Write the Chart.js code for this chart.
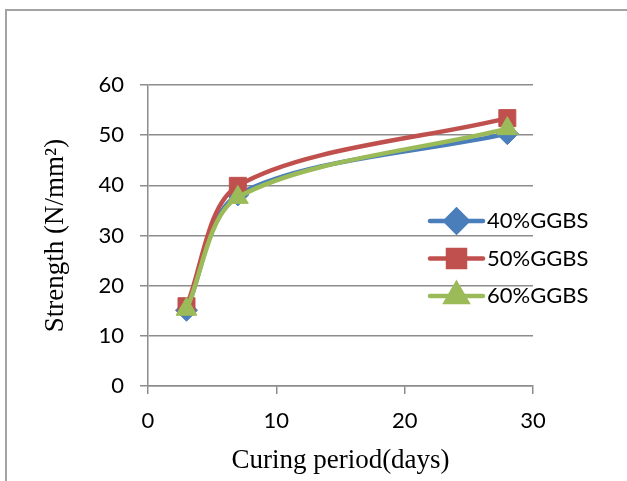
<!DOCTYPE html>
<html>
<head>
<meta charset="utf-8">
<script src="https://cdn.jsdelivr.net/npm/chart.js@4/dist/chart.umd.min.js"></script>
<style>
    html, body { margin: 0; padding: 0; background: #fff; }
    #wrap { position: relative; width: 627px; height: 481px; }
    #frame {
        position: absolute; left: 5px; top: 9px; right: 0; bottom: 0;
        border-top: 2px solid #a3a3a3; border-left: 2px solid #a3a3a3;
    }
    #chart { position: absolute; left: 0; top: 0; }
</style>
</head>
<body>
<div id="wrap">
    <div id="frame"></div>
    <canvas id="chart" width="627" height="481"></canvas>
</div>
<script>
const curingDays = [3, 7, 28];
const ggbs40 = [15.1, 38.1, 50.3];
const ggbs50 = [15.9, 39.9, 53.4];
const ggbs60 = [15.3, 37.6, 51.3];
const seriesLabels = ['40%GGBS', '50%GGBS', '60%GGBS'];
const seriesColors = ['#4a7ebb', '#c0504d', '#9bbb59'];
const seriesMarkers = ['rectRot', 'rect', 'triangle'];
const markerSizes = [11, 12, 12];

const gridColor = '#8c8c8c';
const tickFont = { family: 'Lato', size: 22 };
const titleFont = { family: 'Liberation Serif', size: 27 };

function toPoints(values) {
    return curingDays.map((day, i) => ({ x: day, y: values[i] }));
}

const seriesValues = [ggbs40, ggbs50, ggbs60];

const datasets = seriesValues.map((values, i) => ({
    label: seriesLabels[i],
    data: toPoints(values),
    borderColor: seriesColors[i],
    backgroundColor: seriesColors[i],
    pointBackgroundColor: seriesColors[i],
    pointBorderColor: seriesColors[i],
    pointStyle: seriesMarkers[i],
    pointRadius: markerSizes[i],
    pointBorderWidth: 1,
    borderWidth: 4.5,
    tension: 0.3,
    order: 2 - i,
}));

// legend drawn over the plot, like the original
const overlayLegend = {
    id: 'overlayLegend',
    afterDraw(chart) {
        const ctx = chart.ctx;
        const startY = 221;
        const gap = 37.5;
        ctx.save();
        seriesLabels.forEach((label, i) => {
            const y = startY + i * gap;
            ctx.strokeStyle = seriesColors[i];
            ctx.lineWidth = 4.5;
            ctx.lineCap = 'round';
            ctx.beginPath();
            ctx.moveTo(430, y);
            ctx.lineTo(483, y);
            ctx.stroke();
            ctx.fillStyle = seriesColors[i];
            Chart.helpers.drawPoint(ctx, {
                pointStyle: seriesMarkers[i],
                radius: markerSizes[i],
                rotation: 0,
                borderWidth: 1,
            }, 456.5, y);
            ctx.fillStyle = '#000';
            ctx.font = '22px Lato';
            ctx.textAlign = 'left';
            ctx.textBaseline = 'middle';
            ctx.fillText(label, 487, y);
        });
        ctx.restore();
    },
};

new Chart(document.getElementById('chart'), {
    type: 'line',
    data: { datasets },
    options: {
        responsive: false,
        animation: false,
        layout: { padding: { left: 0, top: 85, right: 94, bottom: 2 } },
        plugins: {
            legend: { display: false },
            tooltip: { enabled: false },
        },
        scales: {
            x: {
                type: 'linear',
                min: 0,
                max: 30,
                ticks: { stepSize: 10, color: '#000', font: tickFont, padding: 14 },
                grid: {
                    drawOnChartArea: false,
                    drawTicks: true,
                    tickLength: 8,
                    color: gridColor,
                    lineWidth: 1.5,
                },
                border: { color: gridColor, width: 1.5 },
                title: {
                    display: true,
                    text: 'Curing period(days)',
                    color: '#000',
                    font: titleFont,
                    padding: { top: 0, bottom: 2 },
                },
                afterFit: (scale) => { scale.height = 93; },
            },
            y: {
                min: 0,
                max: 60,
                ticks: { stepSize: 10, color: '#000', font: tickFont, padding: 16 },
                grid: {
                    drawTicks: true,
                    tickLength: 8,
                    color: gridColor,
                    lineWidth: 1.5,
                },
                border: { color: gridColor, width: 1.5 },
                title: {
                    display: true,
                    text: 'Strength (N/mm²)',
                    color: '#000',
                    font: titleFont,
                    padding: { top: 40, bottom: 0 },
                },
                afterFit: (scale) => { scale.width = 148; },
            },
        },
    },
    plugins: [overlayLegend],
});
</script>
</body>
</html>
